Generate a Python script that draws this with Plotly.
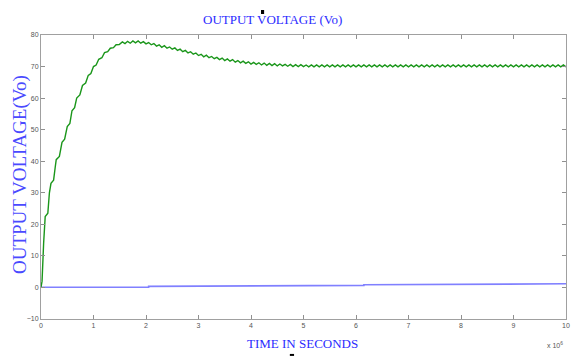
import numpy as np
import plotly.graph_objects as go

# ---------------- data ----------------
# green: output voltage, staircase rise
green_rise_t = [0, 0.02, 0.05, 0.08, 0.13, 0.16, 0.19, 0.24, 0.27, 0.29, 0.35, 0.38, 0.40,
                0.45, 0.48, 0.50, 0.55, 0.57, 0.59, 0.64, 0.66, 0.68, 0.74, 0.77, 0.79,
                0.85, 0.88, 0.90, 0.95, 0.98, 1.00, 1.05, 1.08, 1.10, 1.16, 1.19, 1.21,
                1.27, 1.30, 1.32, 1.38, 1.41, 1.43, 1.49, 1.52]
green_rise_v = [0, 2, 14, 22.5, 23.5, 30, 33, 34, 38, 40.5, 41.5, 45, 46,
                47, 50, 51, 52, 55, 56, 57, 59, 60, 61, 63, 64,
                64.8, 66.5, 67.2, 67.8, 69.3, 70, 70.5, 71.8, 72.3, 72.8, 74, 74.4,
                74.7, 75.5, 75.8, 76.0, 76.7, 76.9, 77.0, 77.5]
# green: rippled overshoot and settling, sampled every 0.05 from 1.55 to 10
green_ripple_t = np.round(np.arange(1.55, 10.0001, 0.05), 2)
green_ripple_v = [
    77.8, 77.3, 78.0, 77.4, 78.1, 77.5, 78.1, 77.4, 77.9, 77.2,
    77.6, 76.9, 77.3, 76.5, 76.9, 76.1, 76.6, 75.8, 76.2, 75.5,
    75.9, 75.1, 75.5, 74.7, 75.1, 74.3, 74.7, 73.9, 74.3, 73.5,
    73.9, 73.1, 73.6, 72.8, 73.2, 72.5, 72.9, 72.2, 72.7, 71.9,
    72.4, 71.7, 72.2, 71.4, 71.9, 71.2, 71.7, 71.0, 71.5, 70.8,
    71.3, 70.7, 71.2, 70.5, 71.1, 70.4, 71.0, 70.3, 70.9, 70.2,
    70.8, 70.2, 70.7, 70.1, 70.7, 70.0, 70.6, 70.0, 70.6, 70.0,
    70.5, 69.9, 70.5, 69.9, 70.5, 69.9, 70.5, 69.9, 70.5, 69.9,
    70.5, 69.9, 70.5, 69.9, 70.5, 69.9, 70.5, 69.9, 70.5, 69.9,
    70.5, 69.9, 70.5, 69.9, 70.5, 69.9, 70.5, 69.9, 70.5, 69.9,
    70.5, 69.9, 70.5, 69.9, 70.5, 69.9, 70.5, 69.9, 70.5, 69.9,
    70.5, 69.9, 70.5, 69.9, 70.5, 69.9, 70.5, 69.9, 70.5, 69.9,
    70.5, 69.9, 70.5, 69.9, 70.5, 69.9, 70.5, 69.9, 70.5, 69.9,
    70.5, 69.9, 70.5, 69.9, 70.5, 69.9, 70.5, 69.9, 70.5, 69.9,
    70.5, 69.9, 70.5, 69.9, 70.5, 69.9, 70.5, 69.9, 70.5, 69.9,
    70.5, 69.9, 70.5, 69.9, 70.5, 69.9, 70.5, 69.9, 70.5, 69.9,
    70.5, 69.9, 70.5, 69.9, 70.5, 69.9, 70.5, 69.9, 70.5, 69.9,
]
# blue: second signal, near zero with small steps
blue_t = [0, 2.05, 2.05, 4.1, 4.1, 6.15, 6.15, 8.2, 8.2, 10]
blue_v = [0.05, 0.1, 0.35, 0.4, 0.6, 0.65, 0.85, 0.9, 1.1, 1.15]

x_ticks = [0, 1, 2, 3, 4, 5, 6, 7, 8, 9, 10]
y_ticks = [-10, 0, 10, 20, 30, 40, 50, 60, 70, 80]

title_text = "OUTPUT VOLTAGE (Vo)"
xlabel_text = "TIME IN SECONDS"
ylabel_text = "OUTPUT VOLTAGE(Vo)"
exp_text = "x 10<sup>6</sup>"

# ---------------- figure ----------------
green_t = list(green_rise_t) + list(green_ripple_t)
green_v = list(green_rise_v) + list(green_ripple_v)

fig = go.Figure()
fig.add_trace(go.Scatter(x=blue_t, y=blue_v, mode="lines",
                         line=dict(color="#8080ff", width=1.6), showlegend=False))
fig.add_trace(go.Scatter(x=green_t, y=green_v, mode="lines",
                         line=dict(color="#1a961a", width=1.4), showlegend=False))

axis_common = dict(showline=True, linecolor="#a0a0a0", linewidth=1, mirror="ticks",
                   ticks="inside", ticklen=4, tickcolor="#909090", showgrid=False,
                   zeroline=False,
                   tickfont=dict(family="Liberation Sans Narrow, Liberation Sans", size=7,
                                 color="#555555"))

# the page adds an 8px body margin, so margins are reduced by 8px on left/top
fig.update_layout(
    width=582, height=356,
    margin=dict(l=33, r=24, t=27, b=45),
    paper_bgcolor="white", plot_bgcolor="white",
    xaxis=dict(range=[0, 10], tickvals=x_ticks, **axis_common),
    yaxis=dict(range=[-10, 80], tickvals=y_ticks, **axis_common),
)

serif = "Liberation Serif, Times New Roman, serif"
fig.add_annotation(text=title_text, xref="paper", yref="paper", x=0.44, y=1.053,
                   xanchor="center", yanchor="middle", showarrow=False,
                   font=dict(family=serif, size=13, color="#2b2bff"))
fig.add_annotation(text=xlabel_text, xref="paper", yref="paper", x=0.499, y=-0.088,
                   xanchor="center", yanchor="middle", showarrow=False,
                   font=dict(family=serif, size=13, color="#2b2bff"))
fig.add_annotation(text=ylabel_text, xref="paper", yref="paper", x=-0.04, y=0.507,
                   xanchor="center", yanchor="middle", showarrow=False, textangle=-90,
                   font=dict(family=serif, size=19, color="#4a4aff"))
fig.add_annotation(text=exp_text, xref="paper", yref="paper", x=0.979, y=-0.092,
                   xanchor="center", yanchor="middle", showarrow=False,
                   font=dict(family="Liberation Sans Narrow, Liberation Sans", size=7,
                             color="#555555"))

# small black artifacts in the picture
fig.add_shape(type="rect", xref="paper", yref="paper", x0=0.419, x1=0.425, y0=1.074, y1=1.088,
              fillcolor="black", line=dict(width=0))
fig.add_shape(type="rect", xref="paper", yref="paper", x0=0.474, x1=0.482, y0=-0.130, y1=-0.123,
              fillcolor="black", line=dict(width=0))

fig.write_html("out.html")
